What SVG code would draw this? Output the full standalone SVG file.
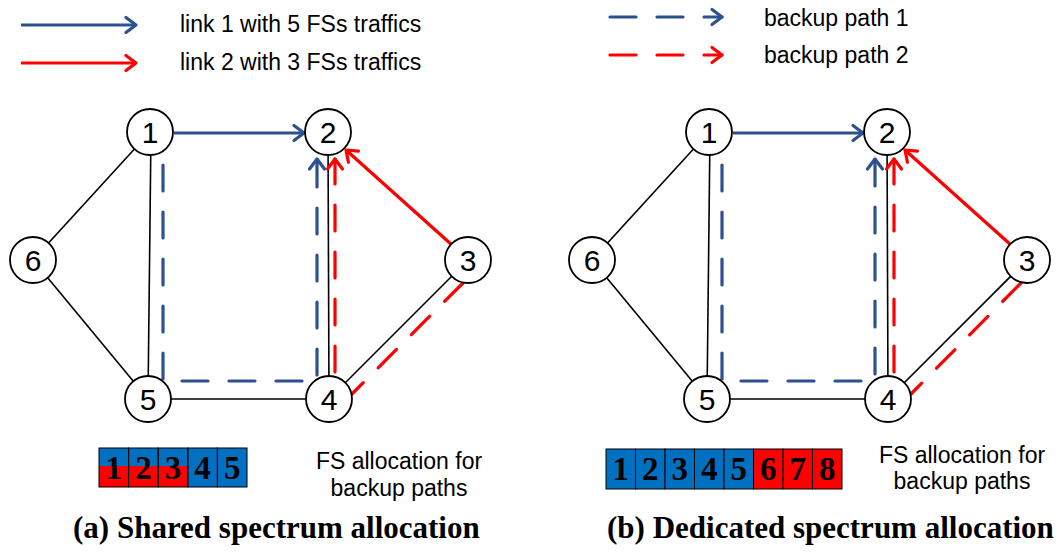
<svg xmlns="http://www.w3.org/2000/svg" width="1061" height="552" viewBox="0 0 1061 552">
<defs>
<style>
.edge{stroke:#000;stroke-width:1.6;fill:none}
.node circle{fill:#fff;stroke:#000;stroke-width:1.8}
.node text{font-family:"Liberation Sans",Arial,sans-serif;font-size:30px;text-anchor:middle;fill:#000}
.blue{stroke:#2B5190;stroke-width:3.2;fill:none}
.red{stroke:#FF0000;stroke-width:3.2;fill:none}
.dash{stroke-dasharray:26 21;stroke-linecap:round}
.lbl{font-family:"Liberation Sans",Arial,sans-serif;font-size:23px;fill:#000}
.mid{text-anchor:middle}
.cap{font-family:"Liberation Serif","Times New Roman",serif;font-size:31px;font-weight:bold;fill:#000}
.fs rect{stroke:#000;stroke-width:1}
.fs text{font-family:"Liberation Serif","Times New Roman",serif;font-size:33px;font-weight:bold;text-anchor:middle;fill:#000}
.fb{fill:#0070C0}
.fr{fill:#FF0000}
</style>
<marker id="ab" viewBox="-13 -10 16 20" refX="0" refY="0" markerWidth="16" markerHeight="20" markerUnits="userSpaceOnUse" orient="auto" overflow="visible">
<path d="M-10,-7.5 L0,0 L-10,7.5" fill="none" stroke="#2B5190" stroke-width="3.2" stroke-linecap="round" stroke-linejoin="round"/>
</marker>
<marker id="ar" viewBox="-13 -10 16 20" refX="0" refY="0" markerWidth="16" markerHeight="20" markerUnits="userSpaceOnUse" orient="auto" overflow="visible">
<path d="M-10,-7.5 L0,0 L-10,7.5" fill="none" stroke="#FF0000" stroke-width="3.2" stroke-linecap="round" stroke-linejoin="round"/>
</marker>
</defs>
<rect width="1061" height="552" fill="#fff"/>

<g id="legend">
<path class="blue" d="M21,25 H136" marker-end="url(#ab)"/>
<path class="red" d="M21,63 H136" marker-end="url(#ar)"/>
<text class="lbl" x="180" y="32">link 1 with 5 FSs traffics</text>
<text class="lbl" x="180" y="70">link 2 with 3 FSs traffics</text>
<path class="blue dash" d="M610,17 H722" marker-end="url(#ab)"/>
<path class="red dash" d="M610,55 H722" marker-end="url(#ar)"/>
<text class="lbl" x="764" y="26">backup path 1</text>
<text class="lbl" x="764" y="63">backup path 2</text>
</g>

<g id="connectors">
<line class="edge" x1="150" y1="132" x2="33" y2="260"/>
<line class="edge" x1="33" y1="260" x2="148" y2="399"/>
<line class="edge" x1="151" y1="132" x2="148" y2="399"/>
<line class="edge" x1="328" y1="132" x2="329" y2="399"/>
<line class="edge" x1="148" y1="399" x2="329" y2="399"/>
<line class="edge" x1="468" y1="260" x2="329" y2="399"/>
<path class="blue" d="M174,133 H304" marker-end="url(#ab)"/>
<path class="red" d="M452,245 L346,150" marker-end="url(#ar)"/>
<path class="blue dash" d="M163,165 V381 H317 V159" marker-end="url(#ab)"/>
<path class="red dash" d="M463,283 L352,394"/>
<path class="red dash" d="M335,372 V159" marker-end="url(#ar)"/>
<line class="edge" x1="709" y1="132" x2="592" y2="260"/>
<line class="edge" x1="592" y1="260" x2="707" y2="399"/>
<line class="edge" x1="710" y1="132" x2="707" y2="399"/>
<line class="edge" x1="887" y1="132" x2="888" y2="399"/>
<line class="edge" x1="707" y1="399" x2="888" y2="399"/>
<line class="edge" x1="1027" y1="260" x2="888" y2="399"/>
<path class="blue" d="M733,133 H863" marker-end="url(#ab)"/>
<path class="red" d="M1011,245 L905,150" marker-end="url(#ar)"/>
<path class="blue dash" d="M722,165 V381 H875 V159" marker-end="url(#ab)"/>
<path class="red dash" d="M1021,283 L911,394"/>
<path class="red dash" d="M894,372 V159" marker-end="url(#ar)"/>
</g>

<g id="a-node1" class="node"><circle cx="150" cy="132" r="23"/><text x="150" y="143">1</text></g>
<g id="a-node2" class="node"><circle cx="328" cy="132" r="23"/><text x="328" y="143">2</text></g>
<g id="a-node3" class="node"><circle cx="468" cy="260" r="23"/><text x="468" y="271">3</text></g>
<g id="a-node4" class="node"><circle cx="329" cy="399" r="23"/><text x="329" y="410">4</text></g>
<g id="a-node5" class="node"><circle cx="148" cy="399" r="23"/><text x="148" y="410">5</text></g>
<g id="a-node6" class="node"><circle cx="33" cy="260" r="23"/><text x="33" y="271">6</text></g>

<g id="b-node1" class="node"><circle cx="709" cy="132" r="23"/><text x="709" y="143">1</text></g>
<g id="b-node2" class="node"><circle cx="887" cy="132" r="23"/><text x="887" y="143">2</text></g>
<g id="b-node3" class="node"><circle cx="1027" cy="260" r="23"/><text x="1027" y="271">3</text></g>
<g id="b-node4" class="node"><circle cx="888" cy="399" r="23"/><text x="888" y="410">4</text></g>
<g id="b-node5" class="node"><circle cx="707" cy="399" r="23"/><text x="707" y="410">5</text></g>
<g id="b-node6" class="node"><circle cx="592" cy="260" r="23"/><text x="592" y="271">6</text></g>

<g id="a-fs" class="fs">
<rect class="fb" x="99" y="448" width="29.6" height="18" style="stroke:none"/>
<rect class="fr" x="99" y="466" width="29.6" height="21" style="stroke:none"/>
<rect class="fb" x="128.6" y="448" width="29.6" height="18" style="stroke:none"/>
<rect class="fr" x="128.6" y="466" width="29.6" height="21" style="stroke:none"/>
<rect class="fb" x="158.2" y="448" width="29.6" height="18" style="stroke:none"/>
<rect class="fr" x="158.2" y="466" width="29.6" height="21" style="stroke:none"/>
<rect class="fb" x="187.8" y="448" width="29.6" height="39" style="stroke:none"/>
<rect class="fb" x="217.4" y="448" width="29.6" height="39" style="stroke:none"/>
<rect x="99" y="448" width="29.6" height="39" fill="none"/>
<rect x="128.6" y="448" width="29.6" height="39" fill="none"/>
<rect x="158.2" y="448" width="29.6" height="39" fill="none"/>
<rect x="187.8" y="448" width="29.6" height="39" fill="none"/>
<rect x="217.4" y="448" width="29.6" height="39" fill="none"/>
<text x="113.8" y="479">1</text>
<text x="143.4" y="479">2</text>
<text x="173" y="479">3</text>
<text x="202.6" y="479">4</text>
<text x="232.2" y="479">5</text>
</g>
<g id="a-fs-label">
<text class="lbl mid" x="399" y="469">FS allocation for</text>
<text class="lbl mid" x="399" y="496">backup paths</text>
</g>

<g id="b-fs" class="fs">
<rect class="fb" x="606" y="449" width="29.5" height="40"/>
<rect class="fb" x="635.5" y="449" width="29.5" height="40"/>
<rect class="fb" x="665" y="449" width="29.5" height="40"/>
<rect class="fb" x="694.5" y="449" width="29.5" height="40"/>
<rect class="fb" x="724" y="449" width="29.5" height="40"/>
<rect class="fr" x="753.5" y="449" width="29.5" height="40"/>
<rect class="fr" x="783" y="449" width="29.5" height="40"/>
<rect class="fr" x="812.5" y="449" width="29.5" height="40"/>
<text x="620.75" y="480">1</text>
<text x="650.25" y="480">2</text>
<text x="679.75" y="480">3</text>
<text x="709.25" y="480">4</text>
<text x="738.75" y="480">5</text>
<text x="768.25" y="480">6</text>
<text x="797.75" y="480">7</text>
<text x="827.25" y="480">8</text>
</g>
<g id="b-fs-label">
<text class="lbl mid" x="962" y="463">FS allocation for</text>
<text class="lbl mid" x="962" y="489">backup paths</text>
</g>

<g id="captions">
<text class="cap" x="73" y="538">(a) Shared spectrum allocation</text>
<text class="cap" x="607" y="538">(b) Dedicated spectrum allocation</text>
</g>
</svg>
